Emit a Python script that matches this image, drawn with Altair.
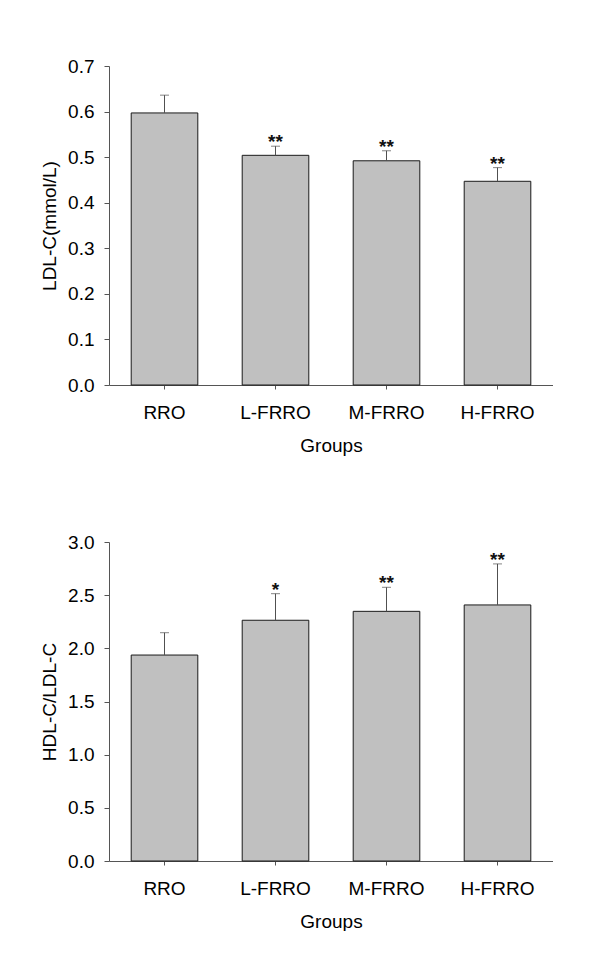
import altair as alt
import pandas as pd

groups = ["RRO", "L-FRRO", "M-FRRO", "H-FRRO"]

ldl_mean = [0.597, 0.504, 0.492, 0.447]
ldl_err = [0.039, 0.020, 0.022, 0.030]
ldl_sig = ["", "**", "**", "**"]

ratio_mean = [1.937, 2.264, 2.348, 2.408]
ratio_err = [0.210, 0.250, 0.226, 0.386]
ratio_sig = ["", "*", "**", "**"]

ldl_ticks = [0.0, 0.1, 0.2, 0.3, 0.4, 0.5, 0.6, 0.7]
ratio_ticks = [0.0, 0.5, 1.0, 1.5, 2.0, 2.5, 3.0]

FONT = "Liberation Sans"
W, H = 444, 319


def panel(means, errs, sigs, ytitle, ticks, ymax):
    df = pd.DataFrame({
        "group": groups,
        "mean": means,
        "upper": [m + e for m, e in zip(means, errs)],
        "sig": sigs,
    })
    x = alt.X("group:N", sort=groups, title="Groups",
              scale=alt.Scale(paddingInner=0.4, paddingOuter=0.2),
              axis=alt.Axis(labelAngle=0, tickSize=4, labelPadding=14,
                            titlePadding=14))
    y = alt.Y("mean:Q", title=ytitle,
              scale=alt.Scale(domain=[0, ymax], nice=False, zero=True),
              axis=alt.Axis(values=ticks, format=".1f", tickSize=5,
                            labelPadding=10, titlePadding=8))
    base = alt.Chart(df)
    bars = base.mark_bar(color="#c0c0c0", stroke="#1a1a1a",
                         strokeWidth=1).encode(x=x, y=y)
    rule = base.mark_rule(color="#505050", strokeWidth=1).encode(
        x=alt.X("group:N", sort=groups), y="mean:Q", y2="upper:Q")
    cap = base.mark_tick(color="#505050", thickness=1, size=9).encode(
        x=alt.X("group:N", sort=groups), y="upper:Q")
    text = base.mark_text(baseline="alphabetic", dy=2, fontSize=19,
                          fontWeight="bold", font=FONT,
                          color="#111111").encode(
        x=alt.X("group:N", sort=groups), y="upper:Q", text="sig:N")
    return alt.layer(bars, rule, cap, text).properties(width=W, height=H)


top = panel(ldl_mean, ldl_err, ldl_sig, "LDL-C(mmol/L)", ldl_ticks, 0.7)
bottom = panel(ratio_mean, ratio_err, ratio_sig, "HDL-C/LDL-C",
               ratio_ticks, 3.0)

chart = alt.vconcat(top, bottom, spacing=78).properties(
    padding={"left": 32, "top": 49, "right": 0, "bottom": 0}
).configure_view(stroke=None).configure_axis(
    grid=False,
    domainColor="#555555",
    tickColor="#555555",
    labelFont=FONT,
    titleFont=FONT,
    labelFontSize=19,
    titleFontSize=19,
    labelColor="#000000",
    titleColor="#000000",
    titleFontWeight="normal",
    labelFlush=False,
    labelOverlap=False,
)

chart.save("out.html", embed_options={"renderer": "svg", "actions": False})
